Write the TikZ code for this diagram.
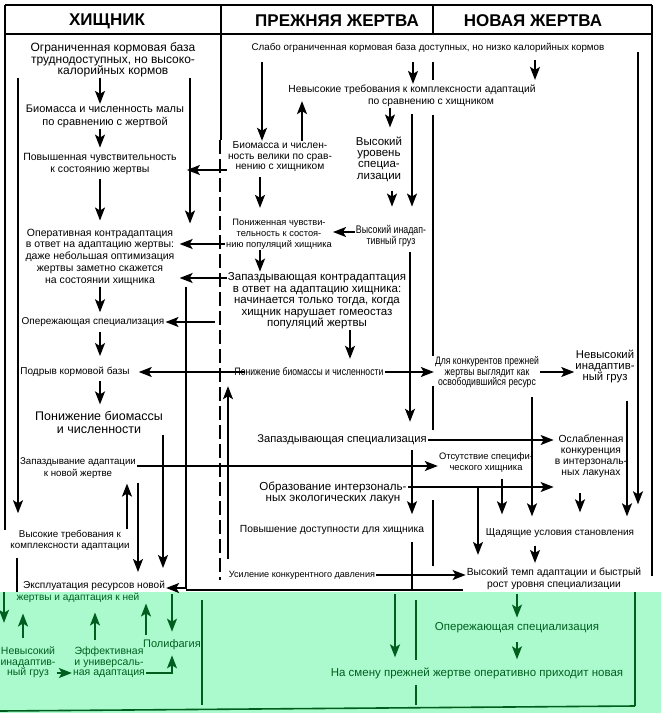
\documentclass[tikz,border=0pt]{standalone}
\usepackage{fontspec}
\setmainfont{Liberation Sans}
\newfontfamily\narrowf{Liberation Sans}[FakeStretch=0.8]
\usetikzlibrary{arrows.meta}
\newcommand\fsz[2]{\fontsize{#1}{#2}\selectfont}
\definecolor{mint}{RGB}{170,250,205}
\definecolor{dkgreen}{RGB}{0,95,30}
\begin{document}
\begin{tikzpicture}[x=1pt,y=-1pt,
  txt/.style={inner sep=1pt, align=center, text=black},
  gtxt/.style={inner sep=1pt, align=center, text=dkgreen},
  arr/.style={line width=1.7pt, -{Stealth[length=13pt,width=10pt,inset=3pt]}},
  ln/.style={line width=1.7pt},
  frm/.style={line width=1.6pt},
  garr/.style={arr, draw=dkgreen},
  gln/.style={line width=1.6pt, draw=dkgreen},
  hdr/.style={font=\bfseries\fsz{17}{17}, inner sep=0pt}
]
\useasboundingbox (0,0) rectangle (661,713);
\fill[white] (0,0) rectangle (661,592);
\fill[mint] (0,592) rectangle (661,713);

% frame
\draw[frm] (5,5) -- (652,5);
\draw[frm] (5,34) -- (652,34);
\draw[frm] (5,5) -- (5,530);
\draw[frm] (652,5) -- (652,576);
\draw[frm] (221,5) -- (221,140);
\draw[frm, dash pattern=on 14pt off 5pt] (220,140) -- (220,580);
\draw[frm] (433,5) -- (433,34);
\draw[frm] (433,62) -- (433,80);
\draw[frm] (433,115) -- (433,356);
\draw[frm] (433,386) -- (433,430);
\draw[frm] (433,500) -- (433,566);
\draw[frm] (186,590) -- (463,590);

% headers
\node[hdr] (H1) at (107,21) {ХИЩНИК};
\node[hdr] (H2) at (337,21) {ПРЕЖНЯЯ ЖЕРТВА};
\node[hdr] (H3) at (533,21) {НОВАЯ ЖЕРТВА};

% predator column
\node[txt,font=\fsz{12}{11.5}] (T1) at (113,60) {Ограниченная кормовая база\\труднодоступных, но высоко-\\калорийных кормов};
\node[txt,font=\fsz{11}{13}] (T2) at (105,116.5) {Биомасса и численность малы\\по сравнению с жертвой};
\node[txt,font=\fsz{10.5}{12}] (T3) at (100,163.5) {Повышенная чувствительность\\к состоянию жертвы};
\node[txt,font=\fsz{10.5}{11.8}] (T4) at (100,257) {Оперативная контрадаптация\\в ответ на адаптацию жертвы:\\даже небольшая оптимизация\\жертвы заметно скажется\\на состоянии хищника};
\node[txt,font=\fsz{10}{12}] (T5) at (93,322) {Опережающая специализация};
\node[txt,font=\fsz{10}{12}] (T6) at (75,372) {Подрыв кормовой базы};
\node[txt,font=\fsz{12.5}{12.5}] (T7) at (99,422.5) {Понижение биомассы\\и численности};
\node[txt,font=\fsz{9.7}{12}] (T8) at (78,468) {Запаздывание адаптации\\к новой жертве};
\node[txt,font=\fsz{9.8}{11}] (T9) at (70,540.5) {Высокие требования к\\комплексности адаптации};
\node[txt,font=\fsz{10.1}{12}] (T10) at (94,586) {Эксплуатация ресурсов новой};
\node[gtxt,font=\fsz{10.1}{12}] (T11) at (78,597.5) {жертвы и адаптация к ней};

% former prey column
\node[txt,font=\fsz{9.8}{12}] (P0) at (428,48) {Слабо ограниченная кормовая база доступных, но низко калорийных кормов};
\node[txt,font=\fsz{10.3}{12}] (P1) at (412,96) {Невысокие требования к комплексности адаптаций\\по сравнению с хищником\hspace*{-38pt}};
\node[txt,font=\fsz{10.2}{10.5}] (P2) at (280,157) {Биомасса и числен-\\ность велики по срав-\\нению с хищником};
\node[txt,font=\fsz{11.5}{11.3}] (P3) at (379,159) {Высокий\\уровень\\специа-\\лизации};
\node[txt,font=\narrowf\fsz{11}{11}] (P4) at (391,236.5) {Высокий инадап-\\тивный груз};
\node[txt,font=\fsz{9.3}{10.8}] (P5) at (279,234) {Пониженная чувстви-\\тельность к состоя-\\нию популяций хищника};
\node[txt,font=\fsz{11.5}{11.5}] (P6) at (317,301) {Запаздывающая контрадаптация\\в ответ на адаптацию хищника:\\начинается только тогда, когда\\хищник нарушает гомеостаз\\популяций жертвы};
\node[txt,font=\narrowf\fsz{10.8}{12}] (P7) at (309,372) {Понижение биомассы и численности};
\node[txt,font=\fsz{11.2}{12}] (P8) at (342,440) {Запаздывающая специализация};
\node[txt,font=\fsz{11.6}{11}] (P9) at (333,492.5) {Образование интерзональ-\\ных экологических лакун};
\node[txt,font=\fsz{10.3}{12}] (P10) at (332,530) {Повышение доступности для хищника};
\node[txt,font=\fsz{9.1}{12}] (P11) at (302,575) {Усиление конкурентного давления};

% new prey column
\node[txt,font=\narrowf\fsz{10.8}{10.5}] (N1) at (487,372.5) {Для конкурентов прежней\\жертвы выглядит как\\освободившийся ресурс};
\node[txt,font=\fsz{11.3}{11}] (N2) at (605,366) {Невысокий\\инадаптив-\\ный груз};
\node[txt,font=\fsz{10.3}{11}] (N3) at (591,456.5) {Ослабленная\\конкуренция\\в интерзональ-\\ных лакунах};
\node[txt,font=\fsz{9.4}{11}] (N4) at (486,462.5) {Отсутствие специфи-\\ческого хищника};
\node[txt,font=\fsz{10}{12}] (N5) at (560,533) {Щадящие условия становления};
\node[txt,font=\fsz{10.3}{12}] (N6) at (554,579) {Высокий темп адаптации и быстрый\\рост уровня специализации};

% green part
\node[gtxt,font=\fsz{10.5}{10.5}] (Gnev) at (28,662.5) {Невысокий\\инадаптив-\\ный груз};
\node[gtxt,font=\fsz{10.5}{10.5}] (Geff) at (109,662.5) {Эффективная\\и универсаль-\\ная адаптация};
\node[gtxt,font=\fsz{11}{12}] (Gpol) at (172,645) {Полифагия};
\node[gtxt,font=\fsz{11.5}{12}] (Gop) at (517,628) {Опережающая специализация};
\node[gtxt,font=\fsz{11.5}{12}] (Gsm) at (477,673) {На смену прежней жертве оперативно приходит новая};

\coordinate (g1s) at (4,592);
\coordinate (g5s) at (172,594);
\coordinate (g8s) at (517,594);
\coordinate (g10s) at (395,594);
\coordinate (lk) at (478,487);

% predator arrows
\draw[arr] (100,0 |- T1.south) -- (100,0 |- T2.north);
\draw[arr, shorten >=4pt] (100,0 |- T2.south) -- (100,0 |- T3.north);
\draw[arr, shorten >=9pt] (P2.west |- 0,170) -- (T3.east |- 0,170);
\draw[arr, shorten <=4pt, shorten >=7pt] (100,0 |- T3.south) -- (100,0 |- T4.north);
\draw[arr, shorten >=4pt] (190,0 |- T1.south) -- (190,0 |- T4.north);
\draw[arr, shorten >=16pt] (18,0 |- T1.south) -- (18,0 |- T9.north);
\draw[arr, shorten >=4pt] (P5.west |- 0,244) -- (T4.east |- 0,244);
\draw[arr, shorten >=4pt] (P6.west |- 0,278) -- (T4.east |- 0,278);
\draw[arr, shorten >=4pt] (100,0 |- T4.south) -- (100,0 |- T5.north);
\draw[arr, shorten <=12pt] (P6.west |- 0,322) -- (T5.east |- 0,322);
\draw[arr, shorten <=4pt, shorten >=10pt] (100,0 |- T5.south) -- (100,0 |- T6.north);
\draw[arr, shorten <=-12pt, shorten >=8pt] (P7.west |- 0,372) -- (T6.east |- 0,372);
\draw[arr, shorten <=3pt, shorten >=6pt] (100,0 |- T6.south) -- (100,0 |- T7.north);
\draw[arr] (186,0 |- T4.south) |- (T10.east |- 0,588);
\draw[arr, shorten >=12pt] (163,0 |- T7.south) -- (163,0 |- T10.north);
\draw[arr] (T8.east |- 0,466) -- (N4.west |- 0,466);
\draw[arr, shorten <=3pt, shorten >=8pt] (138,0 |- T8.south) -- (138,0 |- T10.north);
\draw[arr, shorten >=4pt] (127,0 |- T9.north) -- (127,0 |- T8.south);
\draw[ln, shorten <=6pt] (17,0 |- T9.south) -- (17,0 |- g1s);

% former prey arrows
\draw[arr, shorten <=8pt] (262,0 |- P0.south) -- (262,0 |- P2.north);
\draw[arr, shorten >=-7pt] (302,0 |- P2.north) -- (302,0 |- P1.south);
\draw[arr, shorten <=8pt] (413,0 |- P0.south) -- (413,0 |- P1.north);
\draw[arr, shorten <=6pt, shorten >=4pt] (535,0 |- P0.south) -- (535,0 |- P1.north);
\draw[arr, shorten >=8pt] (390,0 |- P1.south) -- (390,0 |- P3.north);
\draw[arr, shorten <=6pt, shorten >=18pt] (412,0 |- P1.south) -- (412,0 |- P4.north);
\draw[arr, shorten <=8pt, shorten >=18pt] (392,0 |- P3.south) -- (392,0 |- P4.north);
\draw[arr, shorten <=4pt, shorten >=10pt] (260,0 |- P2.south) -- (260,0 |- P5.north);
\draw[arr] (P4.west |- 0,232) -- (P5.east |- 0,232);
\draw[arr] (260,0 |- P5.south) -- (260,0 |- P6.north);
\draw[arr, shorten >=8pt] (350,0 |- P6.south) -- (350,0 |- P7.north);
\draw[arr, shorten <=4pt, shorten >=12pt] (410,0 |- P4.south) -- (410,0 |- P8.north);
\draw[arr] (P7.east |- 0,372) -- (N1.west |- 0,372);
\draw[arr, shorten <=11pt, shorten >=9pt] (228,0 |- P11.north) -- (228,0 |- P7.south);
\draw[arr] (P8.east |- 0,440) -- (N3.west |- 0,440);
\draw[arr, shorten <=4pt, shorten >=10pt] (412,0 |- P8.south) -- (412,0 |- P10.north);
\draw[arr] (P9.east |- 0,487) -- (N3.west |- 0,487);
\draw[ln, shorten <=6pt] (412,0 |- P10.south) -- (412,590);
\draw[arr] (P11.east |- 0,575) -- (N6.west |- 0,575);

% new prey arrows
\draw[arr] (N1.east |- 0,372) -- (N2.west |- 0,372);
\draw[arr, shorten <=8pt, shorten >=11pt] (532,0 |- N1.south) -- (532,0 |- N5.north);
\draw[arr, shorten <=17pt, shorten >=11pt] (627,0 |- N2.south) -- (627,0 |- N5.north);
\draw[arr, shorten <=10pt, shorten >=23pt] (638,0 |- P0.north) -- (638,0 |- N5.north);
\draw[arr, shorten <=14pt, shorten >=15pt] (580,0 |- N3.south) -- (580,0 |- N5.north);
\draw[arr, shorten <=5pt, shorten >=13pt] (502,0 |- N4.south) -- (502,0 |- N5.north);
\draw[arr, shorten >=12pt] (lk) -- (478,0 |- N6.north);
\draw[arr, shorten <=7pt, shorten >=4pt] (535,0 |- N5.south) -- (535,0 |- N6.north);

% green lines and arrows
\draw[gln] (202,600) -- (202,705);
\draw[gln] (416,600) -- (416,660);
\draw[gln] (416,685) -- (416,705);
\draw[gln] (635,592) -- (635,706);
\draw[gln] (0,711) -- (635,706);
\draw[garr, shorten >=23pt] (g1s) -- (4,0 |- Gnev.north);
\draw[garr, shorten <=8pt, shorten >=10pt] (23,0 |- Gnev.north) -- (23,0 |- T11.south);
\draw[garr, shorten <=6pt, shorten >=9pt] (95,0 |- Geff.north) -- (95,0 |- T11.south);
\draw[garr, shorten <=4pt] (146,0 |- Gpol.north) -- (146,0 |- T11.south);
\draw[garr, shorten >=7pt] (g5s) -- (172,0 |- Gpol.north);
\draw[garr] (Gnev.east |- 0,673) -- (Geff.west |- 0,673);
\draw[garr, shorten >=4pt] (Geff.east |- 0,673) -| (172,0 |- Gpol.south);
\draw[garr, shorten >=4pt] (g8s) -- (517,0 |- Gop.north);
\draw[garr, shorten <=8pt, shorten >=7pt] (517,0 |- Gop.south) -- (517,0 |- Gsm.north);
\draw[garr, shorten >=9pt] (g10s) -- (395,0 |- Gsm.north);
\end{tikzpicture}
\end{document}
